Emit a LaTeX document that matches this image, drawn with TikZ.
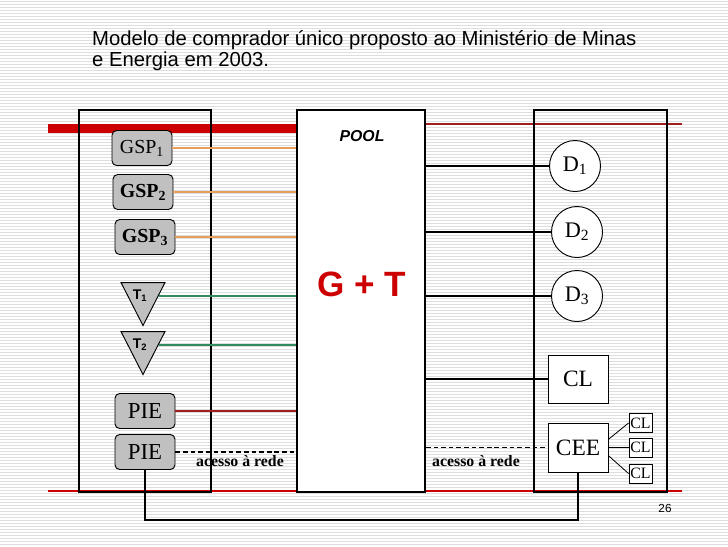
\documentclass[tikz,border=0pt]{standalone}
\usepackage{fontspec}
\setmainfont{Liberation Serif}
\setsansfont{Liberation Sans}
\usetikzlibrary{shapes.geometric}

\definecolor{slidered}{RGB}{204,0,0}
\definecolor{linered}{RGB}{160,30,30}
\definecolor{lineorange}{RGB}{230,160,90}
\definecolor{linegreen}{RGB}{50,140,95}
\definecolor{boxgray}{RGB}{192,192,192}
\definecolor{stripe}{RGB}{222,222,222}

\tikzset{
  bigbox/.style={draw,line width=1.6pt,minimum width=3.96cm,minimum height=11.46cm,inner sep=0pt},
  agente/.style={draw,fill=boxgray,rounded corners=4pt,line width=0.8pt,minimum width=1.8cm,minimum height=1.05cm,inner sep=0pt},
  transm/.style={draw,fill=boxgray,line width=0.8pt,isosceles triangle,isosceles triangle stretches,shape border rotate=270,minimum width=1.32cm,minimum height=1.29cm,inner sep=0pt},
  consumo/.style={draw,fill=white,line width=0.8pt,inner sep=0pt},
  acesso/.style={font=\fontsize{13.5}{15}\selectfont\bfseries}
}

\begin{document}
\begin{tikzpicture}[x=0.03cm,y=-0.03cm]
\useasboundingbox (0,0) rectangle (728,546);
% fundo listrado do slide
\foreach \y in {1,4,...,546} \draw[stripe,line width=0.5pt] (0,\y) -- (728,\y);
% faixas vermelhas
\fill[slidered] (48,124) rectangle (297,133);
\draw[linered,line width=0.9pt] (425,124) -- (682,124);
\draw[slidered,line width=0.9pt] (48,491) -- (682,491);
% titulo
\node[anchor=north west,align=left,font=\sffamily\fontsize{17.3}{18}\selectfont,inner sep=0pt] (titulo) at (92,30)
  {Modelo de comprador único proposto ao Ministério de Minas\\e Energia em 2003.};
% blocos
\node[bigbox] (geracao) at (145,301) {};
\node[bigbox,fill=white,minimum width=3.84cm] (pool) at (361,301) {};
\node[bigbox,minimum width=3.99cm] (distrib) at (600.5,301) {};
\node[font=\sffamily\bfseries\itshape\fontsize{13.5}{15}\selectfont] (pooltxt) at (362,136) {POOL};
\node[font=\sffamily\bfseries\fontsize{30}{32}\selectfont,text=slidered] (gt) at (362,284) {G + T};
% geradores
\node[agente,font=\fontsize{17}{19}\selectfont] (gsp1) at (142,148) {GSP\textsubscript{1}};
\node[agente,font=\fontsize{17}{19}\selectfont\bfseries] (gsp2) at (143,192) {GSP\textsubscript{2}};
\node[agente,font=\fontsize{17}{19}\selectfont\bfseries] (gsp3) at (145,237) {GSP\textsubscript{3}};
\node[transm] (t1) at (143,296) {};
\node[font=\sffamily\bfseries\fontsize{12}{13}\selectfont] (t1txt) at (140,296) {T\textsubscript{1}};
\node[transm] (t2) at (143,345) {};
\node[font=\sffamily\bfseries\fontsize{12}{13}\selectfont] (t2txt) at (140,345) {T\textsubscript{2}};
\node[agente,font=\fontsize{19.5}{21}\selectfont] (pie1) at (145,411) {PIE};
\node[agente,font=\fontsize{19.5}{21}\selectfont] (pie2) at (145,452) {PIE};
% distribuidoras e consumidores
\node[consumo,circle,minimum size=1.53cm,font=\fontsize{19}{21}\selectfont] (d1) at (575,166) {D\textsubscript{1}};
\node[consumo,circle,minimum size=1.53cm,font=\fontsize{19}{21}\selectfont] (d2) at (577,232) {D\textsubscript{2}};
\node[consumo,circle,minimum size=1.53cm,font=\fontsize{19}{21}\selectfont] (d3) at (577,296) {D\textsubscript{3}};
\node[consumo,minimum width=1.8cm,minimum height=1.44cm,font=\fontsize{20}{22}\selectfont] (cl) at (578,379) {CL};
\node[consumo,minimum width=1.8cm,minimum height=1.47cm,font=\fontsize{20}{22}\selectfont] (cee) at (578,447.5) {CEE};
\node[consumo,minimum width=0.69cm,minimum height=0.57cm,font=\fontsize{13.5}{15}\selectfont] (cla) at (640.5,423) {CL};
\node[consumo,minimum width=0.69cm,minimum height=0.57cm,font=\fontsize{13.5}{15}\selectfont] (clb) at (640.5,447.5) {CL};
\node[consumo,minimum width=0.69cm,minimum height=0.57cm,font=\fontsize{13.5}{15}\selectfont] (clc) at (640.5,473.5) {CL};
% ligacoes
\draw[lineorange,line width=0.9pt] (gsp1) -- (gsp1 -| pool.west);
\draw[lineorange,line width=0.9pt] (gsp2) -- (gsp2 -| pool.west);
\draw[lineorange,line width=0.9pt] (gsp3) -- (gsp3 -| pool.west);
\draw[linegreen,line width=0.9pt] (t1) -- (t1 -| pool.west);
\draw[linegreen,line width=0.9pt] (t2) -- (t2 -| pool.west);
\draw[linered,line width=0.9pt] (pie1) -- (pie1 -| pool.west);
\draw[dash pattern=on 4pt off 2.5pt,line width=1.2pt] (pie2) -- (pie2 -| pool.west);
\draw[line width=0.9pt] (pool.east |- d1) -- (d1);
\draw[line width=0.9pt] (pool.east |- d2) -- (d2);
\draw[line width=0.9pt] (pool.east |- d3) -- (d3);
\draw[line width=0.9pt] (pool.east |- cl) -- (cl);
\draw[dash pattern=on 4pt off 2.5pt,line width=1.2pt] (pool.east |- cee) -- (cee);
\draw[line width=0.7pt] (cee.15) -- (cla.west);
\draw[line width=0.7pt] (cee.east) -- (clb.west);
\draw[line width=0.7pt] (cee.-15) -- (clc.west);
\draw[line width=0.9pt] (pie2.south) -- ++(0,50) -| (cee.south);
\node[acesso] (acesso1) at (240,461) {acesso à rede};
\node[acesso] (acesso2) at (476,461) {acesso à rede};
% numero do slide
\node[font=\sffamily\fontsize{10}{12}\selectfont] (pagina) at (665,508) {26};
\end{tikzpicture}
\end{document}
